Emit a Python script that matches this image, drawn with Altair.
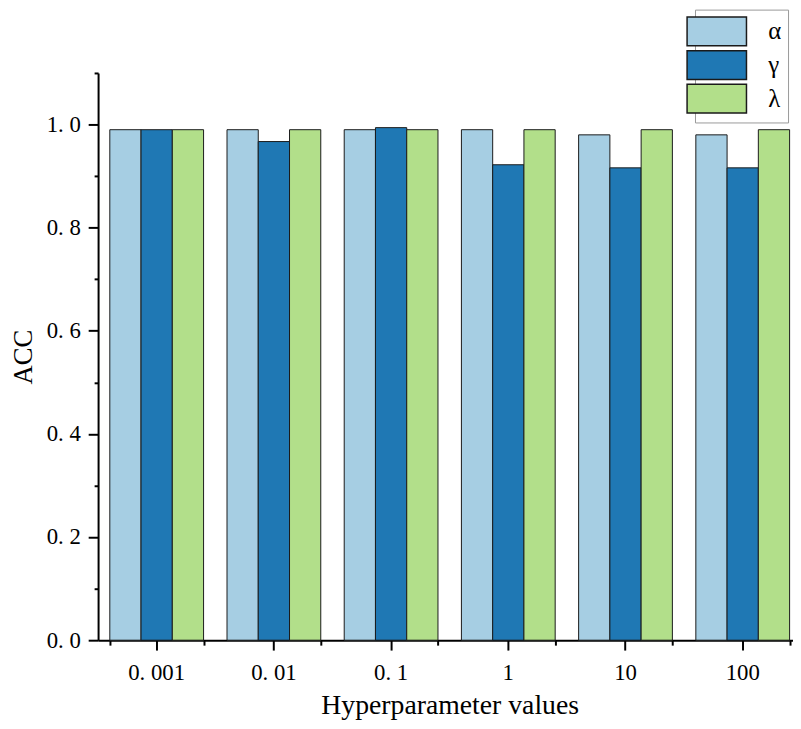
import altair as alt
import pandas as pd

categories = ["0.001", "0.01", "0.1", "1", "10", "100"]
series = ["α", "γ", "λ"]
alpha_vals = [0.99, 0.99, 0.99, 0.99, 0.98, 0.98]
gamma_vals = [0.99, 0.967, 0.994, 0.922, 0.916, 0.916]
lambda_vals = [0.99, 0.99, 0.99, 0.99, 0.99, 0.99]
colors = ["#a6cee3", "#1f78b4", "#b2df8a"]

rows = []
for s, vals in zip(series, [alpha_vals, gamma_vals, lambda_vals]):
    for c, v in zip(categories, vals):
        rows.append({"param": c, "series": s, "acc": v})
df = pd.DataFrame(rows)

FONT = "Liberation Serif"

xscale = alt.Scale(domain=categories, range=[0, 710.4], paddingInner=0.2, paddingOuter=0.1)
yscale = alt.Scale(domain=[0, 1.1], nice=False, zero=True)

bars = alt.Chart(df).mark_bar(stroke="#1a1a1a", strokeWidth=1).encode(
    x=alt.X("param:N", sort=categories, scale=xscale,
            axis=alt.Axis(orient="bottom", title="Hyperparameter values", labelAngle=0,
                          labelExpr="replace(datum.label, '.', '. ')",
                          tickSize=10, tickWidth=2, tickColor="black",
                          domainWidth=2, domainColor="black",
                          labelFont=FONT, labelFontSize=23, labelColor="black", labelPadding=12,
                          titleFont=FONT, titleFontSize=28, titleFontWeight="normal",
                          titleColor="black", titlePadding=7, grid=False)),
    xOffset=alt.XOffset("series:N", sort=series, scale=alt.Scale(paddingInner=0, paddingOuter=0)),
    y=alt.Y("acc:Q", scale=yscale,
            axis=alt.Axis(orient="left", title="ACC", values=[0, 0.2, 0.4, 0.6, 0.8, 1.0],
                          labelExpr="replace(format(datum.value, '.1f'), '.', '. ')",
                          tickSize=10, tickWidth=2, tickColor="black",
                          domainWidth=2, domainColor="black",
                          labelFont=FONT, labelFontSize=23, labelColor="black", labelPadding=8,
                          titleFont=FONT, titleFontSize=27, titleFontWeight="normal",
                          titleColor="black", titlePadding=9, grid=False)),
    color=alt.Color("series:N", sort=series,
                    scale=alt.Scale(domain=series, range=colors),
                    legend=alt.Legend(title=None, orient="none", legendX=603, legendY=-64,
                                      symbolType="M-2,-0.97L2,-0.97L2,0.97L-2,0.97Z",
                                      symbolSize=900, symbolStrokeColor="#1a1a1a",
                                      symbolStrokeWidth=1.5, symbolOpacity=1,
                                      labelFont=FONT, labelFontSize=25, labelColor="black",
                                      labelOffset=36, rowPadding=-4, padding=6,
                                      strokeColor="#999999", fillColor="white",
                                      labelExpr="datum.label + '\u00a0'")),
)

minor = alt.Chart(df).mark_bar(opacity=0).encode(
    x=alt.X("param:N", sort=categories, scale=xscale,
            axis=alt.Axis(orient="bottom", title=None, labels=False, domain=False,
                          tickBand="extent", tickSize=5, tickWidth=2, tickColor="black",
                          grid=False)),
    xOffset=alt.XOffset("series:N", sort=series),
    y=alt.Y("acc:Q", scale=yscale,
            axis=alt.Axis(orient="left", title=None, labels=False, domain=False,
                          values=[0.1, 0.3, 0.5, 0.7, 0.9, 1.1],
                          tickSize=4, tickWidth=2, tickColor="black", grid=False)),
)

chart = alt.layer(bars, minor).resolve_axis(x="independent", y="independent").properties(
    width=702, height=573,
    autosize=alt.AutoSizeParams(type="none"),
    padding={"left": 91, "top": 62, "right": 0, "bottom": 78},
).configure_view(stroke=None)

chart.save("out.html", embed_options={"renderer": "svg", "actions": False})
